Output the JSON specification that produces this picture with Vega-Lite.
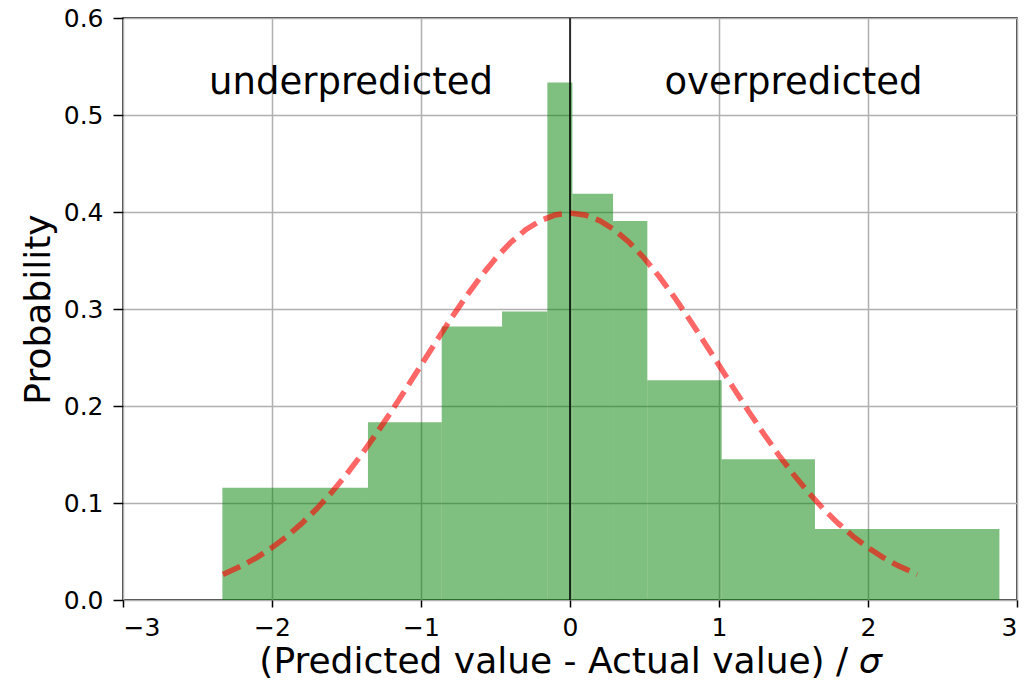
{
  "$schema": "https://vega.github.io/schema/vega-lite/v6.json",
  "width": 894,
  "height": 582,
  "autosize": {"type": "none"},
  "padding": {"left": 123, "top": 18, "right": 17, "bottom": 88},
  "background": "white",
  "config": {
    "font": "DejaVu Sans",
    "view": {"stroke": "black", "strokeWidth": 1.5},
    "axis": {
      "grid": true,
      "gridColor": "#b0b0b0",
      "gridWidth": 1.5,
      "domain": false,
      "tickColor": "black",
      "tickWidth": 1.5,
      "tickSize": 7,
      "labelFont": "DejaVu Sans",
      "labelFontSize": 25,
      "labelColor": "black",
      "titleFont": "DejaVu Sans",
      "titleFontSize": 36,
      "titleFontWeight": "normal",
      "titleColor": "black"
    }
  },
  "datasets": {
    "bars": [
      {"x0": -2.333, "x1": -1.356, "p": 0.1157},
      {"x0": -1.356, "x1": -0.861, "p": 0.1833},
      {"x0": -0.861, "x1": -0.456, "p": 0.2820},
      {"x0": -0.456, "x1": -0.152, "p": 0.2975},
      {"x0": -0.152, "x1": 0.016, "p": 0.5336},
      {"x0": 0.016, "x1": 0.289, "p": 0.4187},
      {"x0": 0.289, "x1": 0.519, "p": 0.3906},
      {"x0": 0.519, "x1": 1.018, "p": 0.2265},
      {"x0": 1.018, "x1": 1.644, "p": 0.1452},
      {"x0": 1.644, "x1": 2.882, "p": 0.0732}
    ],
    "curve": [
      {"x": -2.33, "y": 0.0264}, {"x": -2.2, "y": 0.0355}, {"x": -2.1, "y": 0.0440},
      {"x": -2.0, "y": 0.0540}, {"x": -1.9, "y": 0.0656}, {"x": -1.8, "y": 0.0790},
      {"x": -1.7, "y": 0.0940}, {"x": -1.6, "y": 0.1109}, {"x": -1.5, "y": 0.1295},
      {"x": -1.4, "y": 0.1497}, {"x": -1.3, "y": 0.1714}, {"x": -1.2, "y": 0.1942},
      {"x": -1.1, "y": 0.2179}, {"x": -1.0, "y": 0.2420}, {"x": -0.9, "y": 0.2661},
      {"x": -0.8, "y": 0.2897}, {"x": -0.7, "y": 0.3123}, {"x": -0.6, "y": 0.3332},
      {"x": -0.5, "y": 0.3521}, {"x": -0.4, "y": 0.3683}, {"x": -0.3, "y": 0.3814},
      {"x": -0.2, "y": 0.3910}, {"x": -0.1, "y": 0.3970}, {"x": 0.0, "y": 0.3989},
      {"x": 0.1, "y": 0.3970}, {"x": 0.2, "y": 0.3910}, {"x": 0.3, "y": 0.3814},
      {"x": 0.4, "y": 0.3683}, {"x": 0.5, "y": 0.3521}, {"x": 0.6, "y": 0.3332},
      {"x": 0.7, "y": 0.3123}, {"x": 0.8, "y": 0.2897}, {"x": 0.9, "y": 0.2661},
      {"x": 1.0, "y": 0.2420}, {"x": 1.1, "y": 0.2179}, {"x": 1.2, "y": 0.1942},
      {"x": 1.3, "y": 0.1714}, {"x": 1.4, "y": 0.1497}, {"x": 1.5, "y": 0.1295},
      {"x": 1.6, "y": 0.1109}, {"x": 1.7, "y": 0.0940}, {"x": 1.8, "y": 0.0790},
      {"x": 1.9, "y": 0.0656}, {"x": 2.0, "y": 0.0540}, {"x": 2.1, "y": 0.0440},
      {"x": 2.2, "y": 0.0355}, {"x": 2.33, "y": 0.0264}
    ],
    "labels": [
      {"x": -1.47, "y": 0.533, "t": "underpredicted"},
      {"x": 1.5, "y": 0.533, "t": "overpredicted"}
    ],
    "zero": [{"x": 0}]
  },
  "layer": [
    {
      "data": {"name": "bars"},
      "mark": {"type": "rect", "fill": "green", "fillOpacity": 0.5},
      "encoding": {
        "x": {
          "field": "x0", "type": "quantitative",
          "scale": {"domain": [-3, 3], "nice": false, "zero": false},
          "axis": {
            "values": [-3, -2, -1, 0, 1, 2, 3],
            "format": "d",
            "labelExpr": "replace(datum.label, '-', '−')",
            "title": "(Predicted value - Actual value) / 𝜎",
            "labelPadding": 8,
            "titlePadding": 4
          }
        },
        "x2": {"field": "x1"},
        "y": {
          "field": "p", "type": "quantitative",
          "scale": {"domain": [0, 0.6], "nice": false},
          "axis": {
            "values": [0, 0.1, 0.2, 0.3, 0.4, 0.5, 0.6],
            "format": ".1f",
            "title": "Probability",
            "tickSize": 10,
            "labelPadding": 10,
            "titlePadding": 6
          }
        },
        "y2": {"datum": 0}
      }
    },
    {
      "data": {"name": "curve"},
      "mark": {"type": "line", "stroke": "red", "strokeOpacity": 0.6, "strokeWidth": 5.5, "strokeDash": [19, 8]},
      "encoding": {
        "x": {"field": "x", "type": "quantitative"},
        "y": {"field": "y", "type": "quantitative"}
      }
    },
    {
      "data": {"name": "zero"},
      "mark": {"type": "rule", "stroke": "black", "strokeWidth": 1.5},
      "encoding": {
        "x": {"field": "x", "type": "quantitative"}
      }
    },
    {
      "data": {"name": "labels"},
      "mark": {"type": "text", "fontSize": 37, "font": "DejaVu Sans", "color": "black", "align": "center", "baseline": "middle"},
      "encoding": {
        "x": {"field": "x", "type": "quantitative"},
        "y": {"field": "y", "type": "quantitative"},
        "text": {"field": "t"}
      }
    }
  ]
}
